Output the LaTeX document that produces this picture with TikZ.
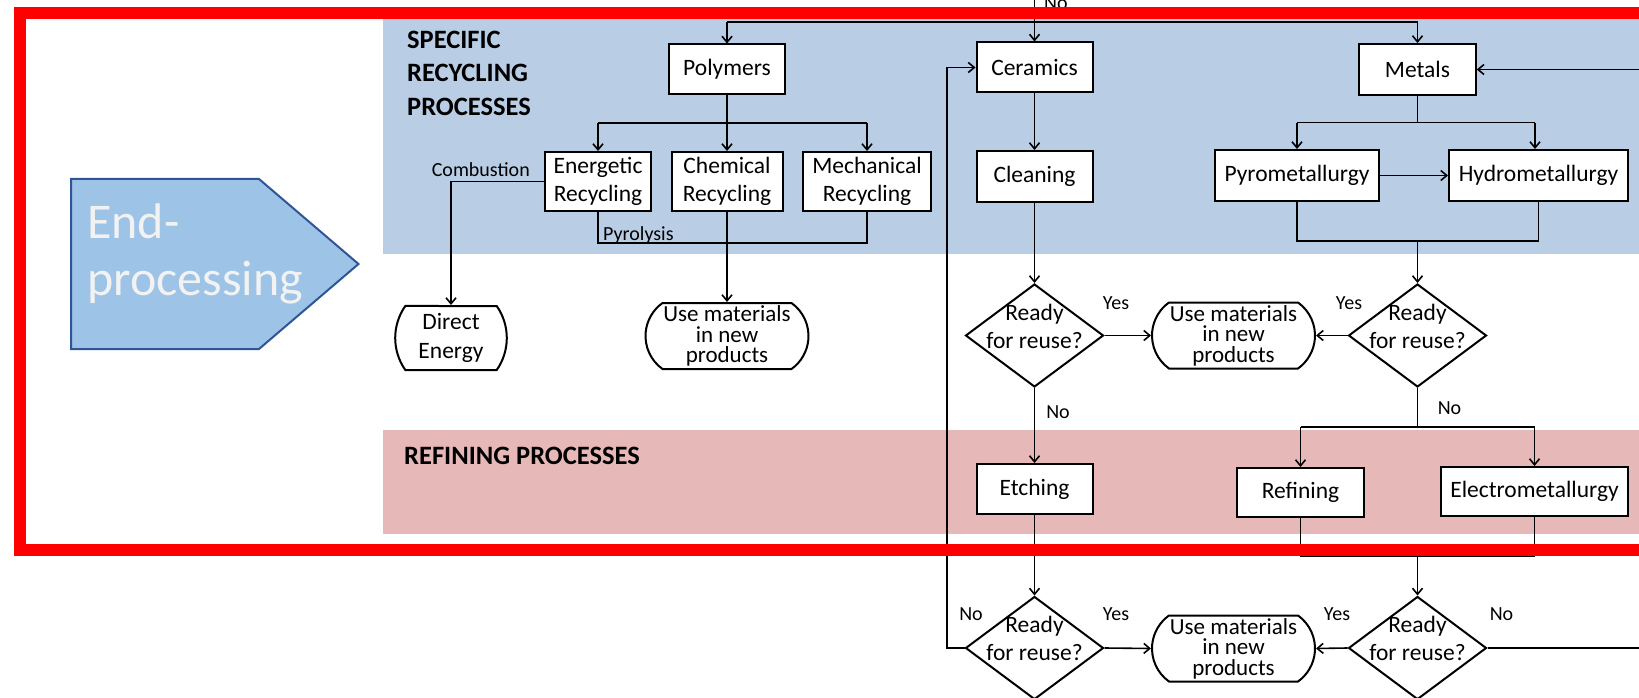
\documentclass[tikz,border=0pt]{standalone}
\usepackage{fontspec}
\setmainfont{Carlito}
\usetikzlibrary{arrows.meta,shapes.geometric,shapes.misc}

\definecolor{bandblue}{RGB}{185,205,229}
\definecolor{bandpink}{RGB}{230,184,183}
\definecolor{tagfill}{RGB}{157,195,230}
\definecolor{tagline}{RGB}{47,85,151}
\definecolor{tagtext}{RGB}{242,242,242}
\definecolor{framered}{RGB}{255,0,0}

\begin{document}
\begin{tikzpicture}[x=1pt,y=-1pt,
  boxfont/.style={font=\fontsize{23.5}{28}\selectfont},
  proc/.style={boxfont,draw,fill=white,line width=2pt,inner sep=0pt,
    minimum height=50pt,align=center},
  term/.style={boxfont,rounded rectangle,draw,fill=white,line width=2pt,
    inner xsep=0pt,inner ysep=0pt,align=center},
  usebox/.style={term,font=\fontsize{23}{20.5}\selectfont,minimum width=163pt,
    minimum height=66pt,rounded rectangle arc length=109},
  decide/.style={diamond,draw,fill=white,line width=2pt,inner sep=0pt,
    minimum width=138pt,minimum height=103pt},
  qtext/.style={boxfont,align=center,inner sep=0pt},
  lbl/.style={font=\fontsize{20}{24}\selectfont,inner sep=0pt},
  head/.style={font=\fontsize{26.5}{32}\bfseries\selectfont,inner sep=0pt,anchor=base west},
  link/.style={line width=1.6pt},
  flow/.style={link,-{Straight Barb[length=6pt,width=10pt]}}]

\useasboundingbox (0,0) rectangle (1639,698);

% bands
\fill[bandblue] (383,19) rectangle (1700,254);
\fill[bandpink] (383,430) rectangle (1700,534);

% section tag
\draw[tagline,fill=tagfill,line width=2pt]
  (71,179) -- (259,179) -- (358.5,264) -- (259,349) -- (71,349) -- cycle;
\node[font=\fontsize{50}{57}\selectfont,text=tagtext,inner sep=0pt,anchor=base west] (tagA) at (87,238) {End-};
\node[font=\fontsize{50}{57}\selectfont,text=tagtext,inner sep=0pt,anchor=base west] (tagB) at (87,295) {processing};

% band headings
\node[head] (h1) at (407,49) {SPECIFIC};
\node[head] (h2) at (407,82) {RECYCLING};
\node[head] (h3) at (407,116) {PROCESSES};
\node[head] (h4) at (404,464) {REFINING PROCESSES};

% polymers
\node[proc,minimum width=116pt] (poly) at (727,69.5) {Polymers};
\node[proc,minimum width=106pt,minimum height=59pt] (ener) at (598,181.5) {Energetic\\Recycling};
\node[proc,minimum width=111pt,minimum height=59pt] (chem) at (727,181.5) {Chemical\\Recycling};
\node[proc,minimum width=128pt,minimum height=59pt] (mech) at (867,181.5) {Mechanical\\Recycling};
\node[term,font=\fontsize{23.5}{29}\selectfont,minimum width=94pt,minimum height=64pt,
  rounded rectangle arc length=70] (dire) at (451,338) {Direct\\Energy};
\node[usebox] (use1) at (727,336) {Use materials\\in new\\products};

% ceramics
\node[proc,minimum width=116pt] (cera) at (1034.5,67.5) {Ceramics};
\node[proc,minimum width=116pt,minimum height=51pt] (clea) at (1034.5,176.5) {Cleaning};
\node[decide] (q1) at (1034.5,335.5) {};
\node[qtext] (q1t) at (1034.5,326) {Ready\\for reuse?};
\node[proc,minimum width=116pt] (etch) at (1034.5,489) {Etching};
\node[decide] (q3) at (1034.5,648) {};
\node[qtext] (q3t) at (1034.5,638.5) {Ready\\for reuse?};

% metals
\node[proc,minimum width=116.5pt,minimum height=51pt] (meta) at (1417.5,69.5) {Metals};
\node[proc,minimum width=164pt,minimum height=51pt] (pyro) at (1297,175.5) {Pyrometallurgy};
\node[proc,minimum width=179pt,minimum height=51pt] (hydro) at (1538.5,175.5) {Hydrometallurgy};
\node[decide] (q2) at (1417.5,335.5) {};
\node[qtext] (q2t) at (1417.5,326) {Ready\\for reuse?};
\node[proc,minimum width=127pt,minimum height=49pt] (refi) at (1300.5,492.5) {Refining};
\node[proc,minimum width=187pt,minimum height=49pt] (elec) at (1534.5,491.5) {Electrometallurgy};
\node[decide] (q4) at (1417.5,648) {};
\node[qtext] (q4t) at (1417.5,638.5) {Ready\\for reuse?};

% shared outcomes
\node[usebox] (use2) at (1233.5,335.5) {Use materials\\in new\\products};
\node[usebox] (use3) at (1233.5,648.5) {Use materials\\in new\\products};

% junction points
\coordinate (topin) at (1034.5,-8);
\coordinate (tl) at (727,22);
\coordinate (tr) at (1417.5,22);
\coordinate (pj) at (0,123);
\coordinate (pyj) at (0,243);
\coordinate (mj) at (0,122.7);
\coordinate (hb) at (1535,0);
\coordinate (hj) at (0,241);
\coordinate (nj) at (0,427);
\coordinate (rj) at (0,556);
\coordinate (lb) at (947,0);
\coordinate (rb) at (1700,0);

% incoming flows
\draw[flow] (topin) -- (cera.north);
\draw[link] (tl) -- (tr);
\draw[flow] (tl) -- (poly.north);
\draw[flow] (tr) -- (meta.north);

% polymer routes
\draw[flow] (poly.south) -- (chem.north);
\draw[link] (ener.north |- pj) -- (mech.north |- pj);
\draw[flow] (ener.north |- pj) -- (ener.north);
\draw[flow] (mech.north |- pj) -- (mech.north);
\draw[flow] (ener.west) -| (dire.north);
\draw[link] (ener.south) |- (mech.south |- pyj) -- (mech.south);
\draw[flow] (chem.south) -- (use1.north);
\node[lbl,anchor=base east] (comb) at (530,176) {Combustion};
\node[lbl,anchor=base west] (pyrl) at (603,240) {Pyrolysis};

% ceramic routes
\draw[flow] (cera.south) -- (clea.north);
\draw[flow] (clea.south) -- (q1.north);
\draw[flow] (q1.east) -- (use2.west);
\draw[flow] (q1.south) -- (etch.north);
\draw[flow] (etch.south) -- (q3.north);
\draw[flow] (q3.east) -- (use3.west);
\draw[flow] (q3.west) -- (q3.west -| lb) |- (cera.west);

% metal routes
\draw[link] (meta.south) -- (meta.south |- mj);
\draw[link] (pyro.north |- mj) -- (hb |- mj);
\draw[flow] (pyro.north |- mj) -- (pyro.north);
\draw[flow] (hb |- mj) -- (hb |- hydro.north);
\draw[flow] (pyro.east) -- (hydro.west);
\draw[link] (pyro.south) |- (hydro.south |- hj) -- (hydro.south);
\draw[flow] (meta.south |- hj) -- (q2.north);
\draw[flow] (q2.west) -- (use2.east);
\draw[link] (q2.south) -- (q2.south |- nj);
\draw[link] (refi.north |- nj) -- (elec.north |- nj);
\draw[flow] (refi.north |- nj) -- (refi.north);
\draw[flow] (elec.north |- nj) -- (elec.north);
\draw[link] (refi.south) |- (elec.south |- rj) -- (elec.south);
\draw[flow] (q4.north |- rj) -- (q4.north);
\draw[flow] (q4.west) -- (use3.east);
\draw[flow] (q4.east) -- (q4.east -| rb) |- (meta.east);

% decision labels
\node[lbl] (y1) at (1116,303) {Yes};
\node[lbl] (y2) at (1349,303) {Yes};
\node[lbl] (n1) at (1058,412) {No};
\node[lbl] (n2) at (1449.5,408) {No};
\node[lbl] (n3) at (971,614) {No};
\node[lbl] (y3) at (1116,614) {Yes};
\node[lbl] (y4) at (1337,614) {Yes};
\node[lbl] (n4) at (1501.5,614) {No};
\node[lbl,anchor=base west] (n0) at (1044,10) {No};

% frame
\draw[framered,line width=12pt] (20,13) rectangle (1720,550);
\end{tikzpicture}
\end{document}
